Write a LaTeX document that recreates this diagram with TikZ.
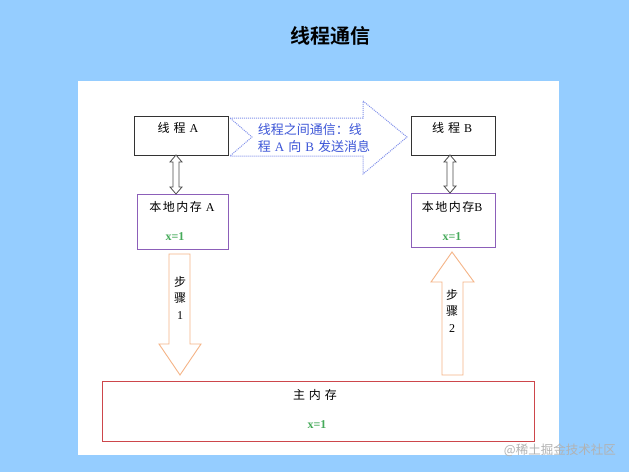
\documentclass[tikz,border=0pt]{standalone}
\usepackage{fontspec}
\setmainfont{Liberation Serif}
\newfontfamily\cjk{Noto Sans CJK SC}
\newfontfamily\cjkb{Noto Sans CJK SC Bold}
\definecolor{bgblue}{RGB}{149,205,255}
\definecolor{memborder}{RGB}{140,95,185}
\definecolor{stepor}{RGB}{245,180,135}
\definecolor{mainred}{RGB}{205,70,75}
\definecolor{dotblue}{RGB}{130,145,235}
\definecolor{txtblue}{RGB}{60,85,215}
\definecolor{xgreen}{RGB}{70,170,90}
\newcommand{\gapw}{\hspace{4pt}}
\newcommand{\latw}[1]{{\rmfamily #1}}
\tikzset{
  threadbox/.style={draw=black!80,line width=1pt,fill=white,inner sep=0pt},
  membox/.style={draw=memborder,line width=1pt,fill=white,inner sep=0pt},
  mainbox/.style={draw=mainred,line width=1pt,fill=white,inner sep=0pt},
  lbl/.style={font=\cjk\fontsize{12}{14}\selectfont,inner sep=0pt},
  xval/.style={font=\bfseries\fontsize{12}{14}\selectfont,text=xgreen,inner sep=0pt},
  dblarr/.style={draw=black!70,line width=0.8pt,fill=white},
  steparr/.style={draw=stepor,line width=0.9pt,fill=white},
  steptxt/.style={font=\cjk\fontsize{12}{16}\selectfont,align=center,inner sep=0pt}
}
\begin{document}
\begin{tikzpicture}[x=1pt,y=-1pt]
\useasboundingbox (0,0) rectangle (629,472);
\fill[bgblue] (0,0) rectangle (629,472);
\node[font=\cjkb\fontsize{20}{24}\selectfont,inner sep=0pt] (title) at (330,36) {线程通信};
\fill[white] (78,81) rectangle (559,455);
% thread boxes
\node[threadbox,minimum width=94pt,minimum height=39pt] (ta) at (181,135.5) {};
\node[lbl] (tat) at (178,128) {线\gapw 程\gapw \latw{A}};
\node[threadbox,minimum width=84pt,minimum height=39pt] (tb) at (453,135.5) {};
\node[lbl] (tbt) at (452,128) {线\gapw 程\gapw \latw{B}};
% local memories
\node[membox,minimum width=91pt,minimum height=55pt] (la) at (182.5,221.5) {};
\node[lbl] (lat) at (182,207) {本\hspace{1.5pt}地\hspace{1.5pt}内\hspace{1.5pt}存\gapw\latw{A}};
\node[xval] (lax) at (175,237) {x=1};
\node[membox,minimum width=84pt,minimum height=54pt] (lb) at (453,220) {};
\node[lbl] (lbt) at (452,207) {本\hspace{1.5pt}地\hspace{1.5pt}内\hspace{1.5pt}存\latw{B}};
\node[xval] (lbx) at (452,237) {x=1};
% main memory
\node[mainbox,minimum width=432pt,minimum height=60pt] (mm) at (318,411) {};
\node[lbl] (mmt) at (315,395) {主\gapw 内\gapw 存};
\node[xval] (mmx) at (317,425) {x=1};
% double arrows
\draw[dblarr] (176,155) -- (182,162) -- (179,162) -- (179,187) -- (182,187) -- (176,194) -- (170,187) -- (173,187) -- (173,162) -- (170,162) -- cycle;
\draw[dblarr] (450,155) -- (456,162) -- (453,162) -- (453,186) -- (456,186) -- (450,193) -- (444,186) -- (447,186) -- (447,162) -- (444,162) -- cycle;
% blue arrow
\draw[dotblue,dash pattern=on 1pt off 1pt,line width=1pt,fill=white] (230,118) -- (363,118) -- (363,101) -- (407,137) -- (363,174) -- (363,156) -- (230,156) -- (252,137) -- cycle;
\node[font=\cjk\fontsize{13}{17}\selectfont,text=txtblue,align=left,inner sep=0pt] (msg) at (314,138.5) {线程之间通信：线\\程\gapw\latw{A}\gapw 向\gapw\latw{B}\gapw 发送消息};
% step arrows
\draw[steparr] (169,254) -- (190,254) -- (190,344) -- (201,344) -- (180,375) -- (159,344) -- (169,344) -- cycle;
\node[steptxt] (s1) at (180,298) {步\\骤\\[1pt]{\rmfamily 1}};
\draw[steparr] (452,252) -- (474,282) -- (463,282) -- (463,375) -- (442,375) -- (442,282) -- (431,282) -- cycle;
\node[steptxt] (s2) at (452,311) {步\\骤\\[1pt]{\rmfamily 2}};
% watermark
\node[font=\cjk\fontsize{12.5}{14}\selectfont,text=black!30,anchor=east,inner sep=0pt] (wm) at (616,450) {@稀土掘金技术社区};
\end{tikzpicture}
\end{document}
